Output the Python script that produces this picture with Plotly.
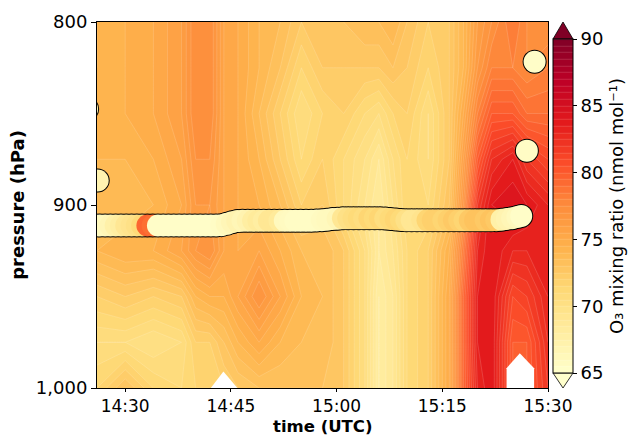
import numpy as np
import pandas as pd
import plotly.graph_objects as go

# ---------------- data ----------------
base = pd.Timestamp("2021-01-01 14:00")

# gridded O3 (nmol/mol): minutes after 14:00 UTC x pressure levels (hPa)
grid_minutes = [26, 30, 34, 38, 40, 42, 44, 46, 49, 52, 55, 58, 61, 64, 66, 68, 70, 73, 76, 78, 80, 82, 85, 87, 90]
grid_pressure = [800, 825, 850, 875, 900, 925, 950, 975, 1000]
# one profile per time (values at grid_pressure, top to bottom)
o3_profiles = [
    [74.0, 74.0, 74.5, 74.0, 74.0, 74.0, 72.0, 70.5, 71.5],
    [74.5, 74.5, 74.5, 74.0, 73.5, 74.5, 72.5, 70.5, 73.0],
    [75.0, 75.0, 75.0, 74.5, 74.0, 74.5, 72.0, 70.0, 71.5],
    [76.0, 76.0, 76.0, 75.5, 75.0, 75.5, 72.5, 70.5, 71.0],
    [77.5, 77.5, 77.5, 77.0, 76.5, 76.5, 74.0, 72.0, 71.5],
    [77.5, 77.5, 77.5, 77.0, 76.5, 77.0, 74.5, 72.0, 71.5],
    [75.5, 75.5, 75.5, 75.5, 75.5, 75.5, 74.5, 73.0, 72.0],
    [75.0, 75.0, 75.0, 75.0, 75.0, 75.0, 75.5, 74.0, 72.5],
    [74.0, 74.0, 73.5, 74.0, 74.5, 75.5, 77.0, 75.0, 73.0],
    [73.5, 73.0, 72.0, 72.5, 73.5, 74.5, 75.5, 74.0, 73.0],
    [72.5, 71.5, 70.5, 71.0, 72.0, 73.5, 74.0, 73.5, 73.0],
    [73.0, 72.5, 71.5, 72.0, 72.5, 73.5, 73.5, 73.5, 73.0],
    [73.0, 72.5, 72.0, 71.0, 71.0, 72.5, 72.5, 72.5, 72.5],
    [73.5, 72.5, 71.0, 70.0, 69.5, 70.5, 70.5, 70.5, 70.5],
    [73.5, 72.5, 70.5, 69.0, 68.5, 68.5, 68.0, 68.0, 68.0],
    [74.0, 73.0, 71.5, 70.5, 70.0, 69.5, 69.0, 69.0, 69.0],
    [73.0, 72.5, 72.0, 71.5, 71.5, 71.0, 71.0, 71.0, 71.0],
    [72.0, 71.5, 70.5, 70.5, 71.0, 72.0, 72.0, 72.0, 72.0],
    [72.5, 72.5, 72.5, 72.5, 73.0, 74.5, 75.0, 75.0, 75.0],
    [74.0, 74.0, 75.0, 76.0, 77.0, 78.5, 79.5, 79.5, 79.5],
    [76.0, 76.5, 78.0, 80.0, 82.0, 83.0, 83.5, 83.5, 83.0],
    [77.0, 78.0, 80.0, 82.5, 84.0, 84.0, 84.0, 84.0, 84.0],
    [78.5, 78.0, 80.0, 83.5, 84.5, 83.0, 81.0, 80.0, 80.0],
    [77.5, 77.5, 79.0, 82.0, 84.0, 83.0, 81.5, 80.0, 80.0],
    [77.0, 78.0, 79.0, 81.0, 83.0, 83.5, 83.0, 82.5, 82.0],
]

# in-situ (aircraft) level leg, in time order
leg_minutes = [25.65, 26.40, 27.15, 27.90, 28.65, 29.40, 30.15, 30.90, 31.65, 32.40,
               33.15, 33.90, 34.65, 35.40, 36.15, 36.90, 37.65, 38.40, 39.15, 39.90,
               40.65, 41.40, 42.15, 42.90, 43.65, 44.40, 45.15, 45.90, 46.65, 47.40,
               48.15, 48.90, 49.65, 50.40, 51.15, 51.90, 52.65, 53.40, 54.15, 54.90,
               55.65, 56.40, 57.15, 57.90, 58.65, 59.40, 60.15, 60.90, 61.65, 62.40,
               63.15, 63.90, 64.65, 65.40, 66.15, 66.90, 67.65, 68.40, 69.15, 69.90,
               70.65, 71.40, 72.15, 72.90, 73.65, 74.40, 75.15, 75.90, 76.65, 77.40,
               78.15, 78.90, 79.65, 80.40, 81.15, 81.90, 82.65, 83.40, 84.15, 84.90,
               85.65, 86.20]
leg_pressure = [911.2, 911.2, 911.2, 911.2, 911.2, 911.2, 911.2, 911.2, 911.2, 911.2,
                911.2, 911.2, 911.2, 911.2, 911.2, 911.2, 911.2, 911.2, 911.2, 911.2,
                911.2, 911.2, 911.2, 911.2, 911.0, 910.3, 909.4, 908.8, 908.6, 908.6,
                908.6, 908.6, 908.6, 908.6, 908.6, 908.6, 908.6, 908.6, 908.6, 908.6,
                908.6, 908.6, 908.5, 908.3, 908.0, 907.7, 907.5, 907.3, 907.3, 907.3,
                907.3, 907.3, 907.3, 907.3, 907.3, 907.4, 907.6, 907.9, 908.2, 908.4,
                908.4, 908.4, 908.4, 908.4, 908.4, 908.4, 908.4, 908.4, 908.4, 908.4,
                908.4, 908.4, 908.4, 908.4, 908.4, 908.4, 908.3, 908.0, 907.6, 907.2,
                906.6, 906.0]
leg_o3 = [66.0, 66.0, 66.0, 66.5, 67.5, 68.0, 69.0, 69.5, 70.0, 71.0,
          79.5, 79.0, 65.3, 65.3, 65.3, 65.3, 65.3, 65.3, 65.3, 65.3,
          65.3, 65.3, 65.3, 65.3, 65.5, 66.0, 66.5, 67.0, 66.5, 67.0,
          68.0, 68.5, 68.0, 69.0, 69.0, 68.5, 66.0, 65.8, 65.5, 65.5,
          65.5, 65.5, 65.5, 65.8, 66.0, 66.0, 66.5, 69.0, 70.0, 70.5,
          71.0, 70.5, 71.5, 71.0, 71.5, 70.5, 71.0, 71.5, 71.0, 70.0,
          69.0, 69.0, 69.5, 71.5, 72.0, 72.0, 71.5, 72.0, 72.5, 72.0,
          71.5, 72.5, 73.0, 73.0, 72.5, 73.0, 72.5, 67.5, 67.0, 66.5,
          66.0, 65.3]

# in-situ profile samples (ascent/descent at the ends of the leg)
prof_minutes = [24.6, 26.1, 87.0, 88.1]
prof_pressure = [847.5, 886.6, 870.3, 821.7]
prof_o3 = [67.0, 67.0, 65.5, 65.3]

# regions with no retrieval (near surface)
gap1_minutes = [42.15, 43.94, 45.92, 42.15]
gap1_pressure = [1000, 991.0, 1000, 1000]
gap2_minutes = [84.12, 84.12, 86.0, 88.03, 88.03, 84.12]
gap2_pressure = [1000, 989.2, 981.0, 989.2, 1000, 1000]

cbar_ticks = [65, 70, 75, 80, 85, 90]
y_tickvals = [800, 900, 1000]
y_ticktext = ["800", "900", "1,000"]
x_tick_minutes = [30, 45, 60, 75, 90]

# ---------------- figure ----------------
FS = 18

def to_time(mins):
    return base + pd.to_timedelta(np.asarray(mins, dtype=float), unit="min")

ylorrd = ['#ffffcc', '#ffeda0', '#fed976', '#feb24c', '#fd8d3c',
          '#fc4e2a', '#e31a1c', '#bd0026', '#800026']
cscale = [[i / (len(ylorrd) - 1), c] for i, c in enumerate(ylorrd)]

z = np.array(o3_profiles).T  # rows = pressure, cols = time

fig = go.Figure()
fig.add_trace(go.Contour(
    x=to_time(grid_minutes), y=grid_pressure, z=z,
    colorscale=cscale, zmin=65, zmax=90,
    contours=dict(start=65, end=90, size=0.5, coloring="fill"),
    line=dict(width=0.5, color="rgba(255,255,255,0.3)", smoothing=0),
    colorbar=dict(
        x=(553 - 97) / 451, xanchor="left", xpad=0,
        y=1 - ((39 + 373) / 2 - 22) / 366, yanchor="middle", ypad=0,
        len=(373 - 39) / 366, lenmode="fraction",
        thickness=20, thicknessmode="pixels",
        outlinewidth=1, outlinecolor="black",
        ticks="outside", ticklen=4, tickcolor="black",
        tickvals=cbar_ticks, tickfont=dict(size=FS, color="black"),
        title=dict(text="O₃ mixing ratio (nmol mol⁻¹)", side="right",
                   font=dict(size=FS, color="black")),
    ),
    hoverinfo="skip",
))

for gx, gy in [(gap1_minutes, gap1_pressure), (gap2_minutes, gap2_pressure)]:
    fig.add_trace(go.Scatter(x=to_time(gx), y=gy, mode="lines", fill="toself",
                             fillcolor="white", line=dict(width=0, color="white"),
                             showlegend=False, hoverinfo="skip"))

# black outline beneath, coloured discs on top
for mins, pres, vals in [(leg_minutes, leg_pressure, leg_o3),
                         (prof_minutes, prof_pressure, prof_o3)]:
    fig.add_trace(go.Scatter(x=to_time(mins), y=pres, mode="markers",
                             marker=dict(size=24, color="black", line=dict(width=0)),
                             showlegend=False, hoverinfo="skip"))
    fig.add_trace(go.Scatter(x=to_time(mins), y=pres, mode="markers",
                             marker=dict(size=22, color=vals, colorscale=cscale,
                                         cmin=65, cmax=90, line=dict(width=0)),
                             showlegend=False))

x_ticks = to_time(x_tick_minutes)
fig.update_xaxes(
    range=[to_time([26.0])[0], to_time([90.0])[0]],
    tickvals=x_ticks, ticktext=[t.strftime("%H:%M") for t in x_ticks],
    ticks="outside", ticklen=3, tickcolor="black",
    showline=True, linecolor="black", linewidth=1, mirror=True,
    showgrid=False, zeroline=False,
    tickfont=dict(size=17, color="black"),
)
fig.update_yaxes(
    range=[1000, 800],
    tickvals=y_tickvals, ticktext=y_ticktext,
    ticks="outside", ticklen=5, tickcolor="black",
    showline=True, linecolor="black", linewidth=1, mirror=True,
    showgrid=False, zeroline=False,
    tickfont=dict(size=FS, color="black"),
    title=dict(text="<b>pressure (hPa)</b>", font=dict(size=FS, color="black"), standoff=6),
)

# colorbar extension triangles
def px(xp):
    return (xp - 97) / 451

def py(yp):
    return 1 - (yp - 22) / 366

shapes = [
    dict(type="path", xref="paper", yref="paper",
         path=f"M {px(553)} {py(39)} L {px(573)} {py(39)} L {px(563)} {py(22)} Z",
         fillcolor="#800026", line=dict(color="black", width=0.8)),
    dict(type="path", xref="paper", yref="paper",
         path=f"M {px(553)} {py(373)} L {px(573)} {py(373)} L {px(563)} {py(388)} Z",
         fillcolor="#ffffcc", line=dict(color="black", width=0.8)),
]

fig.update_layout(
    width=628, height=437,
    margin=dict(l=97, r=80, t=22, b=49, autoexpand=False),
    paper_bgcolor="white", plot_bgcolor="white",
    font=dict(family="DejaVu Sans", color="black"),
    shapes=shapes,
    showlegend=False,
    annotations=[dict(text="<b>time (UTC)</b>", xref="paper", yref="paper",
                      x=0.5, y=0, xanchor="center", yanchor="bottom",
                      yshift=-48.5, showarrow=False, borderpad=0,
                      font=dict(size=16.5, color="black"))],
)

fig.write_html("out.html")
